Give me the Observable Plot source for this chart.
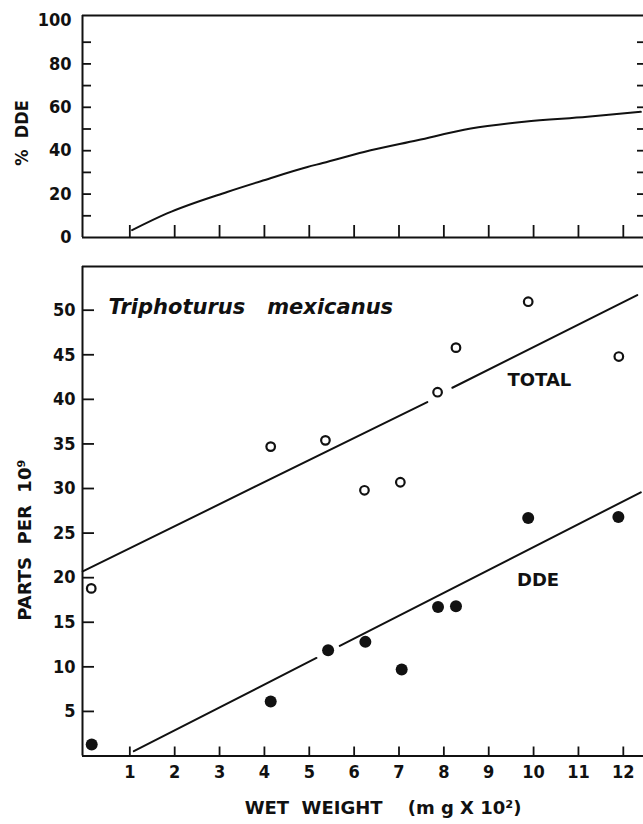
<!DOCTYPE html>
<html>
<head>
<meta charset="utf-8">
<script src="https://cdn.jsdelivr.net/npm/d3@7"></script>
<script src="https://cdn.jsdelivr.net/npm/@observablehq/plot@0.6"></script>
<style>
  html, body { margin: 0; padding: 0; background: #fff; }
  #chart svg { display: block; }
  #chart svg text { white-space: pre; }
</style>
</head>
<body>
<div id="chart"></div>
<script>
// ---------- data ----------
// Top panel: % DDE curve vs wet weight (mg x 10^2)
const pctWeight = [1.05, 1.83, 3.17, 3.99, 4.96, 5.3, 6.22, 7.41, 8.6, 9.79, 11.2, 12.39];
const pctDDE    = [3.4, 11.1, 21.0, 26.4, 32.5, 34.3, 39.4, 44.8, 50.2, 53.3, 55.6, 57.9];

// Bottom panel: open circles (TOTAL) and filled dots (DDE), parts per 10^9
const totalWeight = [0.14, 4.14, 5.36, 6.23, 7.03, 7.86, 8.27, 9.88, 11.9];
const totalPpb    = [18.8, 34.7, 35.4, 29.8, 30.7, 40.8, 45.8, 50.95, 44.8];
const ddeWeight   = [0.15, 4.14, 5.42, 6.25, 7.06, 7.87, 8.27, 9.88, 11.89];
const ddePpb      = [1.3, 6.1, 11.85, 12.8, 9.7, 16.7, 16.8, 26.7, 26.8];

// Fitted lines (each drawn in two segments with a gap around a point)
const totalLineWeight = [-0.05, 7.63, 8.19, 12.31];
const totalLinePpb    = [20.7, 39.7, 41.3, 51.7];
const totalLineSeg    = [1, 1, 2, 2];
const ddeLineWeight   = [1.09, 5.16, 5.68, 12.39];
const ddeLinePpb      = [0.54, 11.0, 12.35, 29.57];
const ddeLineSeg      = [1, 1, 2, 2];

// Series labels inside the bottom panel
const seriesLabels = ["TOTAL", "DDE"];
const seriesLabelWeight = [10.13, 10.1];
const seriesLabelPpb = [42.1, 19.7];

// Ticks and labels
const xTicks = [1, 2, 3, 4, 5, 6, 7, 8, 9, 10, 11, 12];
const pctTickMarks = [10, 20, 30, 40, 50, 60, 70, 80, 90];
const pctTickLabels = [0, 20, 40, 60, 80, 100];
const ppbTicks = [5, 10, 15, 20, 25, 30, 35, 40, 45, 50];

const xDomain = [-0.055, 12.45];
const pctDomain = [0, 102.3];
const ppbDomain = [0, 54.9];

const speciesTitle = "Triphoturus\u00A0\u00A0 mexicanus";
const topYLabel = "%\u00A0 DDE";
const bottomYLabel = "PARTS\u00A0 PER\u00A0 10\u2079";
const xLabel = "WET\u00A0 WEIGHT\u00A0\u00A0\u00A0 (m g X 10\u00B2)";

// ---------- build tables ----------
const pctData = pctWeight.map((w, i) => ({w, p: pctDDE[i]}));
const totalData = totalWeight.map((w, i) => ({w, v: totalPpb[i]}));
const ddeData = ddeWeight.map((w, i) => ({w, v: ddePpb[i]}));
const totalLine = totalLineWeight.map((w, i) => ({w, v: totalLinePpb[i], s: totalLineSeg[i]}));
const ddeLine = ddeLineWeight.map((w, i) => ({w, v: ddeLinePpb[i], s: ddeLineSeg[i]}));
const labelData = seriesLabels.map((t, i) => ({t, w: seriesLabelWeight[i], v: seriesLabelPpb[i]}));

const font = "DejaVu Sans";
const condensed = "DejaVu Sans Condensed";
const style = {fontFamily: font, fontSize: "18px", fontWeight: "bold", color: "#111", background: "#fff"};
const blank = () => "";

const topPlot = Plot.plot({
  width: 643, height: 250,
  marginLeft: 82, marginRight: 0, marginTop: 15, marginBottom: 13,
  x: {domain: xDomain},
  y: {domain: pctDomain},
  style,
  marks: [
    Plot.ruleY([pctDomain[0]], {strokeWidth: 2}),
    Plot.ruleY([pctDomain[1]], {strokeWidth: 2}),
    Plot.ruleX([xDomain[0]], {strokeWidth: 2}),
    Plot.axisX({ticks: xTicks, tickSize: -12, tickFormat: blank, strokeWidth: 1.8, label: null}),
    Plot.axisY({ticks: pctTickMarks, tickSize: -9, tickFormat: blank, strokeWidth: 1.8, label: null}),
    Plot.axisY({anchor: "right", ticks: pctTickMarks, tickSize: -7, tickFormat: blank, strokeWidth: 1.8, label: null}),
    Plot.axisY({ticks: pctTickLabels, tickSize: 0, tickPadding: 11, label: null, fontFamily: condensed}),
    Plot.line(pctData, {x: "w", y: "p", curve: "monotone-x", strokeWidth: 2}),
    Plot.text([topYLabel], {frameAnchor: "left", rotate: -90, dx: -60, dy: 6.5,
      textAnchor: "middle", lineAnchor: "middle",
      fontFamily: condensed, fontSize: 18, fontWeight: "bold"})
  ]
});

const bottomPlot = Plot.plot({
  width: 643, height: 574,
  marginLeft: 82, marginRight: 0, marginTop: 16, marginBottom: 68.5,
  x: {domain: xDomain},
  y: {domain: ppbDomain},
  style,
  marks: [
    Plot.ruleY([ppbDomain[0]], {strokeWidth: 2}),
    Plot.ruleY([ppbDomain[1]], {strokeWidth: 2}),
    Plot.ruleX([xDomain[0]], {strokeWidth: 2}),
    Plot.axisX({ticks: xTicks, tickSize: -9, tickFormat: blank, strokeWidth: 1.8, label: null}),
    Plot.axisX({ticks: xTicks, tickSize: 0, tickPadding: 9, label: null, fontFamily: condensed}),
    Plot.axisY({ticks: ppbTicks, tickSize: -12, tickFormat: blank, strokeWidth: 1.8, label: null}),
    Plot.axisY({ticks: ppbTicks, tickSize: 0, tickPadding: 7, label: null, fontFamily: condensed}),
    Plot.line(totalLine, {x: "w", y: "v", z: "s", strokeWidth: 2}),
    Plot.line(ddeLine, {x: "w", y: "v", z: "s", strokeWidth: 2}),
    Plot.dot(totalData, {x: "w", y: "v", r: 4.3, fill: "#fff", stroke: "#111", strokeWidth: 2.2}),
    Plot.dot(ddeData, {x: "w", y: "v", r: 6, fill: "#111", stroke: "none"}),
    Plot.text(labelData, {x: "w", y: "v", text: "t", fontSize: 18, fontWeight: "bold"}),
    Plot.text([speciesTitle], {frameAnchor: "top-left", dx: 26, dy: 41, textAnchor: "start",
      lineAnchor: "middle", fontSize: 21, fontWeight: "bold", fontStyle: "italic"}),
    Plot.text([bottomYLabel], {frameAnchor: "left", rotate: -90, dx: -57, dy: 29,
      textAnchor: "middle", lineAnchor: "middle", fontSize: 18, fontWeight: "bold"}),
    Plot.text([xLabel], {frameAnchor: "bottom", dx: 20, dy: 52, lineAnchor: "middle",
      fontSize: 18, fontWeight: "bold"})
  ]
});

const chart = document.getElementById("chart");
chart.appendChild(topPlot);
chart.appendChild(bottomPlot);
</script>
</body>
</html>
